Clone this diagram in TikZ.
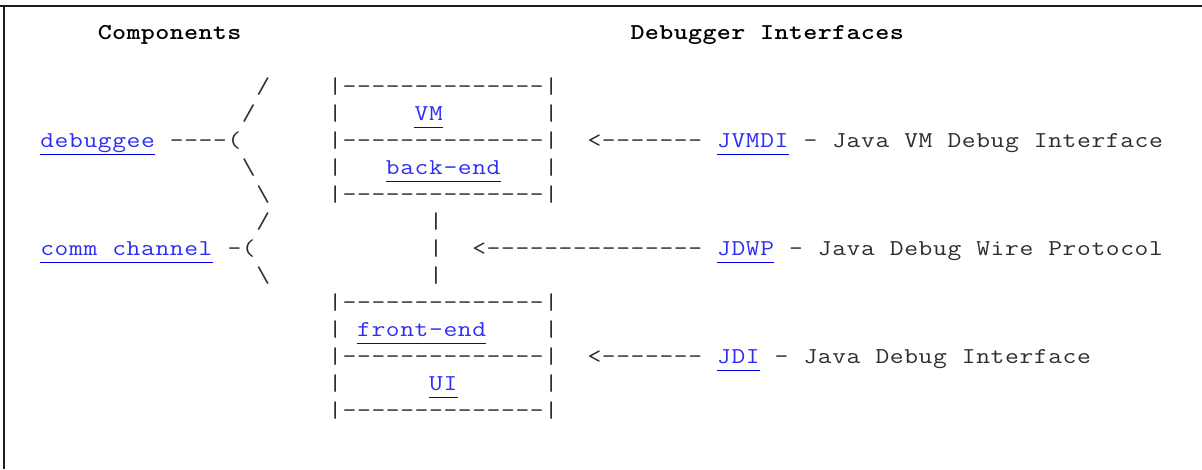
\documentclass[tikz,border=0pt]{standalone}
\usepackage{fontspec}
\usepackage{graphicx}
\definecolor{asciigray}{RGB}{45,45,45}
\definecolor{linkblue}{RGB}{45,45,245}
\definecolor{ulblue}{RGB}{0,0,230}
\definecolor{framegray}{RGB}{30,30,30}
% fixed character cell: every glyph is widened a little and centred in a box of this width
\newlength\cellw
\setlength\cellw{10.8pt}
\makeatletter
\def\cells#1{\cells@a#1\relax}
\def\cells@a#1{\ifx#1\relax\else\makebox[\cellw][c]{\scalebox{1.18}[1]{#1}}\expandafter\cells@a\fi}
\makeatother
\begin{document}
\begin{tikzpicture}[x=0.75pt,y=0.75pt,
  % character grid: column c, text row r (baseline)
  declare function={cx(\c)=40+14.4*\c; ry(\r)=-(39.5+27*\r);},
  every node/.style={inner sep=0pt, outer sep=0pt, anchor=base west,
    font=\ttfamily\fontsize{17pt}{20pt}\selectfont},
  ascii/.style={text=asciigray},
  head/.style={text=black, font=\ttfamily\bfseries\fontsize{17pt}{20pt}\selectfont},
  link/.style={text=linkblue},
  uline/.style={draw=ulblue, line width=0.95pt},
  frame/.style={draw=framegray, line width=1.6pt}]

\fill[white] (0,0) rectangle (1202,-469);
\useasboundingbox (0,0) rectangle (1202,-469);

% page frame (top and left edges)
\draw[frame] (0,-6) -- (1202,-6);
\draw[frame] (4,-6) -- (4,-469);

% column headings
\node[head] (hcomp) at ({cx(4)},{ry(0)}) {\cells{Components}};
\node[head] (hintf) at ({cx(41)},{ry(0)}) {\cells{Debugger~Interfaces}};

% left-hand brackets
\node[ascii] (s2) at ({cx(15)},{ry(2)}) {\cells{/}};
\node[ascii] (s3) at ({cx(14)},{ry(3)}) {\cells{/}};
\node[link]  (debuggee) at ({cx(0)},{ry(4)}) {\cells{debuggee}};
\node[ascii] (dbrace) at ({cx(9)},{ry(4)}) {\cells{----(}};
\node[ascii] (b5) at ({cx(14)},{ry(5)}) {\cells{\textbackslash}};
\node[ascii] (b6) at ({cx(15)},{ry(6)}) {\cells{\textbackslash}};
\node[ascii] (s7) at ({cx(15)},{ry(7)}) {\cells{/}};
\node[link]  (comm) at ({cx(0)},{ry(8)}) {\cells{comm~channel}};
\node[ascii] (cbrace) at ({cx(13)},{ry(8)}) {\cells{-(}};
\node[ascii] (b9) at ({cx(15)},{ry(9)}) {\cells{\textbackslash}};

% upper box: VM / back-end
\node[ascii] (top1) at ({cx(20)},{ry(2)}) {\cells{|--------------|}};
\node[ascii] (vml) at ({cx(20)},{ry(3)}) {\cells{|}};
\node[link]  (vm) at ({cx(26)},{ry(3)}) {\cells{VM}};
\node[ascii] (vmr) at ({cx(35)},{ry(3)}) {\cells{|}};
\node[ascii] (mid1) at ({cx(20)},{ry(4)}) {\cells{|--------------|}};
\node[ascii] (bel) at ({cx(20)},{ry(5)}) {\cells{|}};
\node[link]  (backend) at ({cx(24)},{ry(5)}) {\cells{back-end}};
\node[ascii] (ber) at ({cx(35)},{ry(5)}) {\cells{|}};
\node[ascii] (bot1) at ({cx(20)},{ry(6)}) {\cells{|--------------|}};

% wire between the boxes
\node[ascii] (w7) at ({cx(27)},{ry(7)}) {\cells{|}};
\node[ascii] (w8) at ({cx(27)},{ry(8)}) {\cells{|}};
\node[ascii] (w9) at ({cx(27)},{ry(9)}) {\cells{|}};

% lower box: front-end / UI
\node[ascii] (top2) at ({cx(20)},{ry(10)}) {\cells{|--------------|}};
\node[ascii] (fel) at ({cx(20)},{ry(11)}) {\cells{|}};
\node[link]  (frontend) at ({cx(22)},{ry(11)}) {\cells{front-end}};
\node[ascii] (fer) at ({cx(35)},{ry(11)}) {\cells{|}};
\node[ascii] (mid2) at ({cx(20)},{ry(12)}) {\cells{|--------------|}};
\node[ascii] (uil) at ({cx(20)},{ry(13)}) {\cells{|}};
\node[link]  (ui) at ({cx(27)},{ry(13)}) {\cells{UI}};
\node[ascii] (uir) at ({cx(35)},{ry(13)}) {\cells{|}};
\node[ascii] (bot2) at ({cx(20)},{ry(14)}) {\cells{|--------------|}};

% interface labels
\node[ascii] (a1) at ({cx(38)},{ry(4)}) {\cells{<-------}};
\node[link]  (jvmdi) at ({cx(47)},{ry(4)}) {\cells{JVMDI}};
\node[ascii] (t1) at ({cx(53)},{ry(4)}) {\cells{-~Java~VM~Debug~Interface}};
\node[ascii] (a2) at ({cx(30)},{ry(8)}) {\cells{<---------------}};
\node[link]  (jdwp) at ({cx(47)},{ry(8)}) {\cells{JDWP}};
\node[ascii] (t2) at ({cx(52)},{ry(8)}) {\cells{-~Java~Debug~Wire~Protocol}};
\node[ascii] (a3) at ({cx(38)},{ry(12)}) {\cells{<-------}};
\node[link]  (jdi) at ({cx(47)},{ry(12)}) {\cells{JDI}};
\node[ascii] (t3) at ({cx(51)},{ry(12)}) {\cells{-~Java~Debug~Interface}};

% link underlines
\foreach \n in {debuggee,comm,vm,backend,frontend,ui,jvmdi,jdwp,jdi}
  \draw[uline] ([yshift=-5pt]\n.base west) -- ([yshift=-5pt]\n.base east);
\end{tikzpicture}
\end{document}
